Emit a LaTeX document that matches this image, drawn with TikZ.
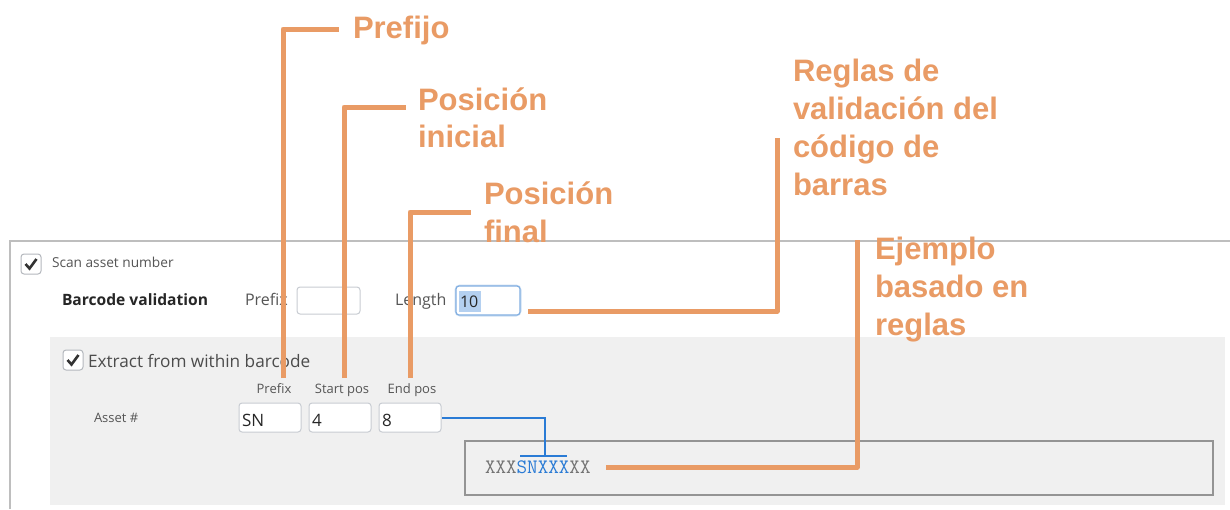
\documentclass[tikz,border=0pt]{standalone}
\usepackage{fontspec}
\setmainfont{Open Sans}
\newfontfamily\annotfont{Liberation Sans}
\definecolor{orng}{RGB}{233,155,101}
\definecolor{uiblue}{RGB}{42,123,213}
\definecolor{panelgray}{RGB}{240,240,240}
\definecolor{framegray}{RGB}{190,190,190}
\definecolor{boxborder}{RGB}{200,204,210}
\definecolor{uitext}{RGB}{85,85,85}
\definecolor{selblue}{RGB}{180,208,240}
\definecolor{focusblue}{RGB}{130,175,225}
\begin{document}
\begin{tikzpicture}[x=1pt,y=-1pt,
  every node/.style={inner sep=0pt,outer sep=0pt},
  annot/.style={font=\annotfont\bfseries\fontsize{31}{37.7}\selectfont,text=orng,align=left,anchor=base west},
  leader/.style={draw=orng,line width=5pt,line join=round},
  uilabel/.style={text=uitext,anchor=base west},
  inputbox/.style={draw=boxborder,fill=white,line width=1pt,rounded corners=3pt},
  chkbox/.style={draw=boxborder!90!black,fill=white,line width=1pt,rounded corners=3pt},
  chkmark/.style={draw=black!80,line width=2.6pt},
  blueline/.style={draw=uiblue,line width=2pt}]
\useasboundingbox (0,0) rectangle (1230,509);
\fill[white] (0,0) rectangle (1230,509);
% outer frame
\draw[framegray,line width=2pt] (10,509) -- (10,241) -- (1230,241);
% first checkbox
\draw[chkbox] (21,254) rectangle (41,274);
\draw[chkmark] (25.5,264) -- (29.5,268.5) -- (36.5,259);
\node[uilabel,font=\fontsize{13.7}{16}\selectfont] (scan) at (52,267) {Scan asset number};
\node[anchor=base west,text=black!85,font=\bfseries\fontsize{15.6}{18}\selectfont] (bv) at (62,305) {Barcode validation};
\node[uilabel,font=\fontsize{16}{18}\selectfont] (pfxlbl) at (245,305) {Prefix};
\draw[inputbox] (297,287) rectangle (360,314);
\node[uilabel,font=\fontsize{16}{18}\selectfont] (lenlbl) at (395,305) {Length};
\draw[draw=focusblue!40,line width=3pt,rounded corners=4pt] (456,286) rectangle (520,315);
\draw[draw=focusblue,fill=white,line width=1.2pt,rounded corners=3pt] (456,286) rectangle (520,315);
\fill[selblue] (459,291) rectangle (481,312);
\node[anchor=base west,text=black!85,font=\fontsize{16}{18}\selectfont] (len) at (460,307) {10};
\coordinate (lenbox) at (520,311);
% inner panel
\fill[panelgray] (50,337) rectangle (1225,505);
\draw[chkbox] (63,350) rectangle (83,370);
\draw[chkmark] (67.5,360) -- (71.5,364.5) -- (78.5,355);
\node[uilabel,font=\fontsize{17.2}{20}\selectfont,text=black!70] (extract) at (88,367) {Extract from within barcode};
\node[anchor=base,text=uitext,font=\fontsize{13}{15}\selectfont] (colpfx) at (274,393) {Prefix};
\node[anchor=base,text=uitext,font=\fontsize{13}{15}\selectfont] (colstart) at (342,393) {Start pos};
\node[anchor=base,text=uitext,font=\fontsize{13}{15}\selectfont] (colend) at (412,393) {End pos};
\node[uilabel,font=\fontsize{13}{15}\selectfont] (asset) at (94,422) {Asset \#};
\draw[inputbox] (239,403) rectangle (301,432);
\draw[inputbox] (309,403) rectangle (371,432);
\draw[inputbox] (379,403) rectangle (441,432);
\node[anchor=base west,text=black!85,font=\fontsize{17}{19}\selectfont] (sn) at (242,426) {SN};
\node[anchor=base west,text=black!85,font=\fontsize{17}{19}\selectfont] (four) at (312,426) {4};
\node[anchor=base west,text=black!85,font=\fontsize{17}{19}\selectfont] (eight) at (382,426) {8};
\coordinate (endbox) at (442,418);
% example box
\draw[draw=black!42,line width=1.1pt] (465,441) rectangle (1213,495);
\node[anchor=base west,font=\ttfamily\fontsize{20.5}{22}\selectfont] (example) at (485,473)
  {\textcolor{black!55}{XXX}\textcolor{uiblue}{SNXXX}\textcolor{black!55}{XX}};
% blue connector with tee
\coordinate (tee) at (545,456);
\draw[blueline] (endbox) -| (tee);
\draw[blueline] (520,456) -- (567,456);
% orange annotations (base anchor = last line)
\node[annot] (prefijo) at (353,38) {Prefijo};
\node[annot] (pini) at (418,147.7) {Posición\\inicial};
\node[annot] (pfin) at (484,242.5) {Posición\\final};
\node[annot] (reglas) at (793,195) {Reglas de\\validación del\\código de\\barras};
\node[annot] (ejemplo) at (875,335) {Ejemplo\\basado en\\reglas};
\coordinate (a1) at (283,378);
\coordinate (a2) at (344,378);
\coordinate (a3) at (410,378);
\draw[leader] (a1) |- (339,29);
\draw[leader] (a2) |- (406,107);
\draw[leader] (a3) |- (471,212);
\draw[leader] (528,311) -| (777,138);
\draw[leader] (606,467) -| (857,240);
\end{tikzpicture}
\end{document}
